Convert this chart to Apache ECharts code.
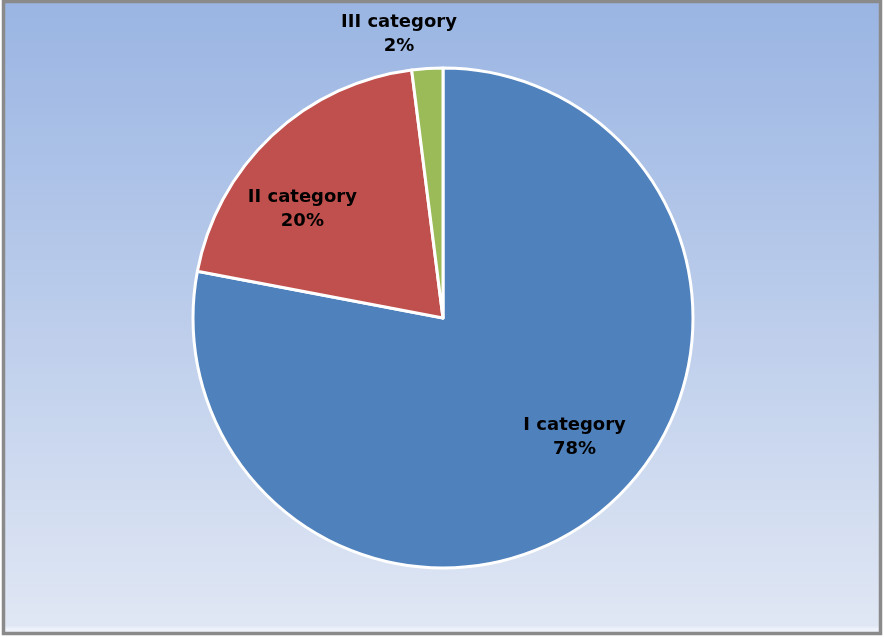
<!DOCTYPE html>
<html>
<head>
<meta charset="utf-8">
<style>
  html, body { margin: 0; padding: 0; background: #ffffff; }
  #chart { width: 884px; height: 637px; }
</style>
<script src="https://cdn.jsdelivr.net/npm/echarts@6/dist/echarts.min.js"></script>
</head>
<body>
<div id="chart"></div>
<script>
// Share of items by category, in percent
const categories = ['I category', 'II category', 'III category'];
const shares = [78, 20, 2];
const sliceColors = ['#4f81bd', '#c0504d', '#9bbb59'];
// Label nudges away from the default inside anchor
const labelOffsets = [[50, 21], [-53, -15], [-36, -156]];

const chart = echarts.init(document.getElementById('chart'), null, { renderer: 'canvas' });

const pieData = categories.map((name, i) => ({
  name: name,
  value: shares[i],
  itemStyle: { color: sliceColors[i] },
  label: { offset: labelOffsets[i] }
}));

chart.setOption({
  animation: false,
  graphic: [
    {
      type: 'rect',
      z: -10,
      silent: true,
      shape: { x: 3.5, y: 1.5, width: 877, height: 632 },
      style: {
        fill: new echarts.graphic.LinearGradient(0, 0, 0, 1, [
          { offset: 0, color: '#9ab5e3' },
          { offset: 0.5, color: '#bccdeb' },
          { offset: 0.985, color: '#e0e7f4' },
          { offset: 0.99, color: '#eef2fa' },
          { offset: 1, color: '#eef2fa' }
        ]),
        stroke: '#8a8a8a',
        lineWidth: 3.5
      }
    }
  ],
  series: [
    {
      type: 'pie',
      center: [443, 318],
      radius: 250,
      startAngle: 90,
      clockwise: true,
      avoidLabelOverlap: false,
      itemStyle: { borderColor: '#ffffff', borderWidth: 3 },
      emphasis: { disabled: true },
      label: {
        show: true,
        position: 'inside',
        formatter: '{b}\n{d}%',
        color: '#000000',
        fontFamily: 'DejaVu Sans',
        fontWeight: 'bold',
        fontSize: 18,
        lineHeight: 24,
        align: 'center'
      },
      labelLine: { show: false },
      data: pieData
    }
  ]
});
</script>
</body>
</html>
